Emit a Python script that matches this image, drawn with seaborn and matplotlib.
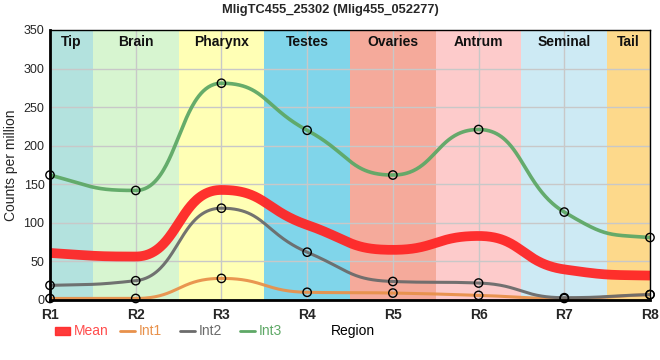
import numpy as np
import pandas as pd
import matplotlib
matplotlib.use("Agg")
import matplotlib.pyplot as plt
import seaborn as sns

regions = ["R1", "R2", "R3", "R4", "R5", "R6", "R7", "R8"]
int1 = [2, 2, 28, 10, 9, 6, 2, 7]
int2 = [19, 25, 119, 62, 24, 22, 3, 7]
int3 = [162, 142, 281, 220, 162, 221, 114, 81]
mean = [(a + b + c) / 3 for a, b, c in zip(int1, int2, int3)]

band_names = ["Tip", "Brain", "Pharynx", "Testes", "Ovaries", "Antrum", "Seminal", "Tail"]
band_colors = ["#b3e2de", "#d7f5d0", "#ffffb5", "#80d5ea", "#f5aa9b", "#fdcbcb", "#cdeaf4", "#fdd98b"]

series_colors = {"Mean": "#ff2626", "Int1": "#e8914b", "Int2": "#6b6b6b", "Int3": "#5ea866"}


def smooth_curve(x, y, a=0.5, n=80):
    """Bezier curve through the points; tangents from monotone rule."""
    x = np.asarray(x, float)
    y = np.asarray(y, float)
    m = len(x)
    h = np.diff(x)
    s = np.diff(y) / h
    t = np.zeros(m)
    for i in range(1, m - 1):
        h0, h1 = h[i - 1], h[i]
        s0, s1 = s[i - 1], s[i]
        p = (s0 * h1 + s1 * h0) / (h0 + h1)
        t[i] = (np.sign(s0) + np.sign(s1)) * min(abs(s0), abs(s1), 0.5 * abs(p))
    t[0] = (3 * s[0] - t[1]) / 2
    t[-1] = 0.5 * (3 * s[-1] - t[-2]) / 2
    xs, ys = [], []
    u = np.linspace(0, 1, n)
    for i in range(m - 1):
        hh = h[i]
        P0 = np.array([x[i], y[i]])
        P3 = np.array([x[i + 1], y[i + 1]])
        P1 = np.array([x[i] + a * hh, y[i] + a * hh * t[i]])
        P2 = np.array([x[i + 1] - a * hh, y[i + 1] - a * hh * t[i + 1]])
        b0 = (1 - u) ** 3
        b1 = 3 * (1 - u) ** 2 * u
        b2 = 3 * (1 - u) * u ** 2
        b3 = u ** 3
        xs.append(b0 * P0[0] + b1 * P1[0] + b2 * P2[0] + b3 * P3[0])
        ys.append(b0 * P0[1] + b1 * P1[1] + b2 * P2[1] + b3 * P3[1])
    return np.concatenate(xs), np.concatenate(ys)


pos = np.arange(len(regions))
sns.set_style("white")
plt.rcParams["font.family"] = ["Liberation Sans", "DejaVu Sans"]

fig = plt.figure(figsize=(6.6, 3.6), dpi=100)
ax = fig.add_axes([50 / 660, 60 / 360, 600 / 660, 270 / 360])

edges = [0, 0.5, 1.5, 2.5, 3.5, 4.5, 5.5, 6.5, 7]
for i, (nm, col) in enumerate(zip(band_names, band_colors)):
    ax.axvspan(edges[i], edges[i + 1], color=col, lw=0, zorder=0)
    ax.text((edges[i] + edges[i + 1]) / 2, 343, nm, ha="center", va="top",
            fontsize=10, fontweight="bold", color="#111111", zorder=5)

for p in pos:
    ax.axvline(p, color="#c8c8c8", lw=1, zorder=1)
for yv in range(50, 350, 50):
    ax.axhline(yv, color="#c8c8c8", lw=1, zorder=1)

lw = {"Mean": 7, "Int1": 2.2, "Int2": 2.2, "Int3": 2.6}
for name, vals in [("Mean", mean), ("Int1", int1), ("Int2", int2), ("Int3", int3)]:
    xs, ys = smooth_curve(pos, vals)
    df = pd.DataFrame({"x": xs, "y": ys})
    sns.lineplot(data=df, x="x", y="y", ax=ax, color=series_colors[name],
                 lw=lw[name], alpha=0.95, zorder=3, sort=False, estimator=None,
                 solid_capstyle="butt")

for name, vals in [("Int1", int1), ("Int2", int2), ("Int3", int3)]:
    dfp = pd.DataFrame({"x": pos, "y": vals})
    sns.scatterplot(data=dfp, x="x", y="y", ax=ax, s=36, facecolor="none",
                    edgecolor="black", linewidth=1, zorder=4, clip_on=False)

ax.set_xlim(0, 7)
ax.set_ylim(0, 350)
ax.set_xticks(pos)
ax.set_xticklabels(regions, fontsize=10, fontweight="bold")
ax.set_yticks(range(0, 351, 50))
ax.set_yticklabels([str(v) for v in range(0, 351, 50)], fontsize=9)
ax.tick_params(axis="x", length=4, width=1, pad=2, color="black")
ax.tick_params(axis="y", length=3, width=1, pad=1, color="black")
ax.set_xlabel("")
ax.set_ylabel("Counts per million", fontsize=10, labelpad=4)
for side in ["left", "bottom"]:
    ax.spines[side].set_linewidth(2)
    ax.spines[side].set_color("black")
for side in ["top", "right"]:
    ax.spines[side].set_linewidth(1)
    ax.spines[side].set_color("black")
    ax.spines[side].set_visible(True)
for sp in ax.spines.values():
    sp.set_zorder(6)

fig.text(330 / 660, 1 - 10 / 360, "MligTC455_25302 (Mlig455_052277)", ha="center",
         va="center", fontsize=9.3, fontweight="bold")

ly = 1 - 331 / 360
fig.patches.append(plt.Rectangle((55 / 660, ly - 4 / 360), 15 / 660, 8 / 360,
                                 transform=fig.transFigure, color=series_colors["Mean"], alpha=0.9))
fig.text(74 / 660, ly, "Mean", color="#ff4d4d", fontsize=10, va="center")
for nm, x0 in [("Int1", 120), ("Int2", 180), ("Int3", 240)]:
    fig.lines.append(plt.Line2D([x0 / 660, (x0 + 15) / 660], [ly, ly], transform=fig.transFigure,
                                color=series_colors[nm], lw=2))
    fig.text((x0 + 19) / 660, ly, nm, color=series_colors[nm], fontsize=10, va="center")
fig.text(331 / 660, ly, "Region", color="black", fontsize=10, va="center")

fig.savefig("out.png", dpi=100)
